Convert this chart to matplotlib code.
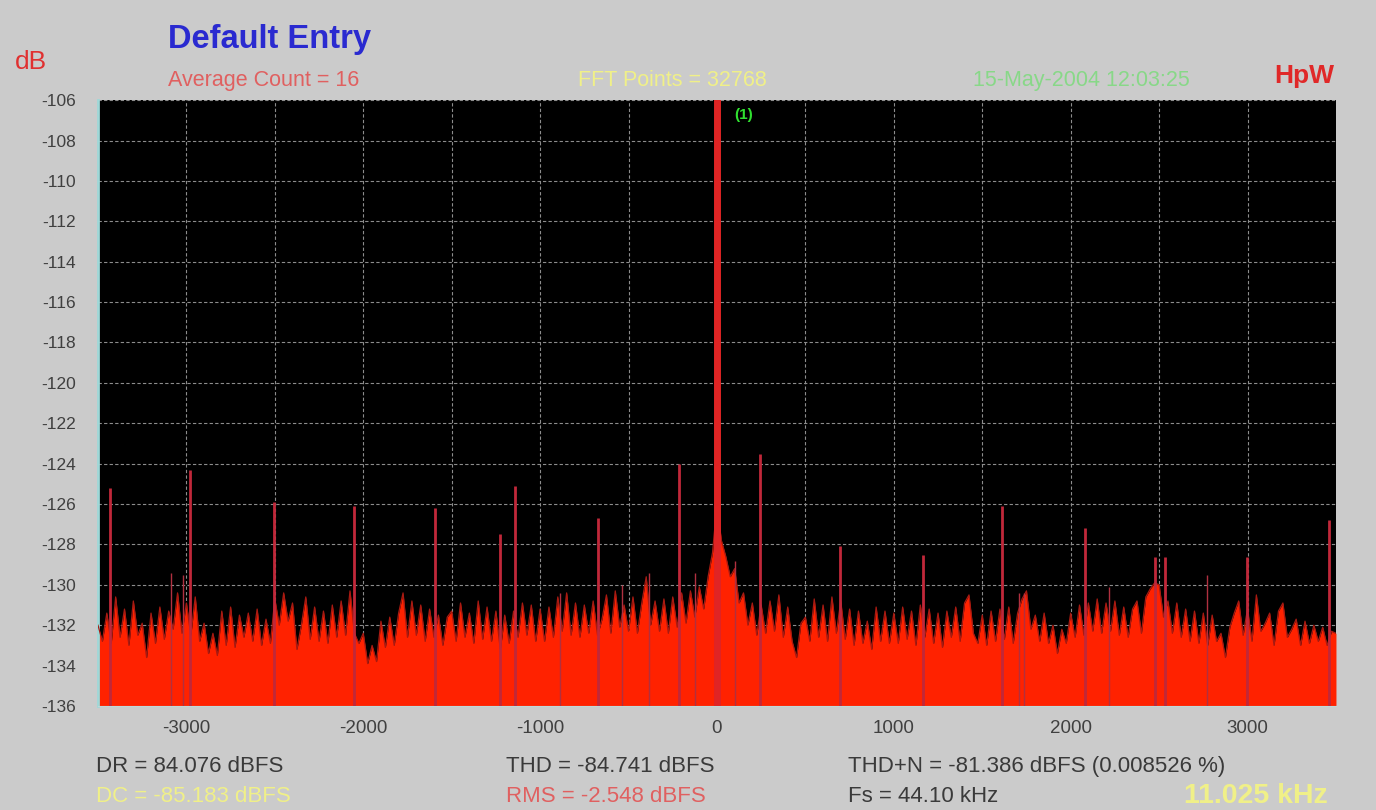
import numpy as np
import matplotlib.pyplot as plt

plt.rcParams['font.family'] = ['Liberation Sans', 'DejaVu Sans']
plt.rcParams['axes.unicode_minus'] = False

# noise floor, read every 25 Hz from -3500 to 3500
freqs = np.arange(-3500, 3501, 25)
floor_db = [
    -132.0, -132.8, -131.4, -132.9, -130.6, -132.6, -131.2, -133.0, -130.8, -132.5,
    -131.9, -133.6, -131.4, -132.9, -131.1, -132.7, -131.3, -132.2, -130.4, -132.4,
    -130.9, -132.5, -130.6, -132.8, -131.9, -133.4, -132.4, -133.5, -131.3, -133.0,
    -131.1, -133.1, -131.5, -132.6, -131.4, -132.8, -131.2, -133.0, -131.7, -132.9,
    -130.7, -132.0, -130.4, -131.8, -130.9, -133.2, -132.0, -130.6, -132.7, -131.1,
    -132.8, -131.3, -132.9, -131.0, -132.6, -130.8, -132.5, -130.3, -132.4, -132.9,
    -132.4, -133.9, -133.0, -133.8, -131.8, -133.1, -131.6, -133.0, -131.4, -130.4,
    -132.6, -130.8, -132.5, -131.0, -132.8, -131.2, -132.6, -131.5, -133.0, -131.6,
    -131.3, -132.8, -130.9, -132.6, -131.4, -132.9, -130.8, -132.7, -131.1, -132.8,
    -131.3, -133.2, -131.5, -132.9, -131.3, -132.6, -130.9, -132.5, -131.0, -132.8,
    -131.2, -132.8, -131.1, -132.6, -130.6, -132.3, -130.4, -132.5, -130.9, -132.6,
    -131.0, -132.4, -130.8, -132.5, -131.7, -130.5, -132.4, -130.3, -132.1, -131.0,
    -132.3, -130.6, -132.4, -130.9, -129.6, -132.0, -130.8, -132.3, -130.7, -132.4,
    -130.6, -132.1, -130.4, -131.9, -130.3, -131.6, -130.1, -131.2, -129.6, -128.4,
    -126.0, -127.8, -128.6, -129.6, -129.2, -130.9, -130.4, -132.0, -130.9, -132.5,
    -131.0, -132.4, -130.8, -132.3, -130.5, -132.6, -131.1, -132.8, -133.6, -131.9,
    -131.6, -132.8, -130.7, -132.6, -131.0, -132.8, -130.6, -132.4, -130.8, -132.7,
    -131.2, -133.0, -131.3, -132.9, -131.8, -133.2, -131.1, -132.8, -131.3, -132.9,
    -131.4, -132.9, -131.1, -132.7, -131.3, -133.0, -131.0, -132.6, -131.2, -132.9,
    -131.4, -133.1, -131.3, -132.6, -131.1, -132.8, -130.9, -130.5, -132.4, -132.9,
    -131.5, -133.0, -131.3, -132.8, -131.2, -132.7, -131.1, -132.9, -131.4, -130.7,
    -130.3, -132.2, -131.5, -132.8, -131.4, -132.9, -132.0, -133.4, -132.2, -132.9,
    -131.4, -132.6, -131.0, -132.5, -130.9, -132.3, -130.7, -132.4, -130.9, -132.3,
    -130.8, -132.5, -131.1, -132.6, -131.2, -130.8, -132.4, -130.6, -130.2, -129.9,
    -130.0, -131.6, -130.8, -132.4, -130.9, -132.6, -131.2, -132.8, -131.3, -132.9,
    -131.4, -133.0, -131.5, -132.8, -132.4, -133.6, -132.1, -131.4, -130.8, -132.5,
    -131.2, -132.8, -130.5, -132.3, -131.9, -131.4, -133.0, -131.3, -130.9, -132.6,
    -132.2, -131.7, -133.0, -131.8, -132.9, -132.0, -132.8, -132.1, -133.0, -132.3,
    -132.4,
]

# distortion spurs (Hz, dB)
spur_hz = [-3430, -2977, -2507, -2054, -1596, -1228, -1143, -673, -215,
           243, 696, 1166, 1613, 2083, 2479, 2535, 2999, 3458]
spur_db = [-125.2, -124.3, -125.9, -126.1, -126.2, -127.5, -125.1, -126.7, -124.0,
           -123.5, -128.1, -128.5, -126.1, -127.2, -128.6, -128.6, -128.6, -126.8]

# smaller noise spikes
spike_hz = [-3085, -3022, -888, -537, -385, -124, 102, 1709, 1737, 2218, 2773]
spike_db = [-129.4, -129.5, -130.4, -130.0, -129.4, -129.4, -128.8, -130.4, -130.4, -130.1, -129.5]

carrier_hz = 0
carrier_db = -100.0

ymin, ymax = -136, -106
yticks = list(range(-106, -137, -2))
xticks = [-3000, -2000, -1000, 0, 1000, 2000, 3000]

fig = plt.figure(figsize=(13.76, 8.10), dpi=100, facecolor='#cbcbcb')
ax = fig.add_axes([0.0712, 0.1284, 0.8997, 0.748])
ax.set_facecolor('black')

ax.fill_between(freqs, ymin, floor_db, color='#ff2200', lw=0, zorder=2)
ax.plot(freqs, floor_db, color='#a81a12', lw=0.9, zorder=3)
ax.vlines(spur_hz, ymin, spur_db, color='#c0283a', lw=2.0, zorder=4)
ax.vlines(spike_hz, ymin, spike_db, color='#b03040', lw=1.0, zorder=4)
ax.vlines([carrier_hz], ymin, [carrier_db], color='#e02424', lw=5, zorder=5)
ax.text(95, -106.75, '(1)', color='#30e030', fontsize=11, fontweight='bold',
        ha='left', va='center', zorder=6)

ax.set_xlim(-3500, 3500)
ax.set_ylim(ymin, ymax)
ax.set_yticks(yticks)
ax.set_yticklabels([str(t) for t in yticks])
ax.set_xticks(xticks)
ax.set_xticks(np.arange(-3000, 3001, 500), minor=True)
ax.tick_params(which='both', length=0, colors='#404040', labelsize=12.5)
ax.tick_params(axis='x', pad=10, labelsize=13.5)
ax.tick_params(axis='y', pad=16)
ax.grid(which='both', axis='x', color='#8c8c8c', lw=0.8, ls=(0, (3, 2)), zorder=1)
ax.grid(which='major', axis='y', color='#8c8c8c', lw=0.8, ls=(0, (3, 2)), zorder=1)
for s in ['top', 'right']:
    ax.spines[s].set_visible(False)
ax.spines['left'].set_color('#9fd8d8')
ax.spines['left'].set_linewidth(2)
ax.spines['bottom'].set_color('#c0d8d8')

fig.text(0.122, 0.951, 'Default Entry', color='#2a2ad0', fontsize=23.5, fontweight='bold', ha='left', va='center')
fig.text(0.011, 0.923, 'dB', color='#e03030', fontsize=19, ha='left', va='center')
fig.text(0.122, 0.901, 'Average Count = 16', color='#e06060', fontsize=15.5, ha='left', va='center')
fig.text(0.489, 0.901, 'FFT Points = 32768', color='#f0f088', fontsize=15.5, ha='center', va='center')
fig.text(0.786, 0.901, '15-May-2004 12:03:25', color='#88d888', fontsize=15.5, ha='center', va='center')
fig.text(0.970, 0.906, 'HpW', color='#e02828', fontsize=19, fontweight='bold', ha='right', va='center')

fig.text(0.070, 0.054, 'DR = 84.076 dBFS', color='#3a3a3a', fontsize=16, ha='left', va='center')
fig.text(0.070, 0.017, 'DC = -85.183 dBFS', color='#f0f088', fontsize=16, ha='left', va='center')
fig.text(0.368, 0.054, 'THD = -84.741 dBFS', color='#3a3a3a', fontsize=16, ha='left', va='center')
fig.text(0.368, 0.017, 'RMS = -2.548 dBFS', color='#e06060', fontsize=16, ha='left', va='center')
fig.text(0.616, 0.054, 'THD+N = -81.386 dBFS (0.008526 %)', color='#3a3a3a', fontsize=16, ha='left', va='center')
fig.text(0.616, 0.017, 'Fs = 44.10 kHz', color='#3a3a3a', fontsize=16, ha='left', va='center')
fig.text(0.965, 0.017, '11.025 kHz', color='#f0f088', fontsize=20.5, fontweight='bold', ha='right', va='center')

fig.savefig('out.png', dpi=100, facecolor=fig.get_facecolor())
